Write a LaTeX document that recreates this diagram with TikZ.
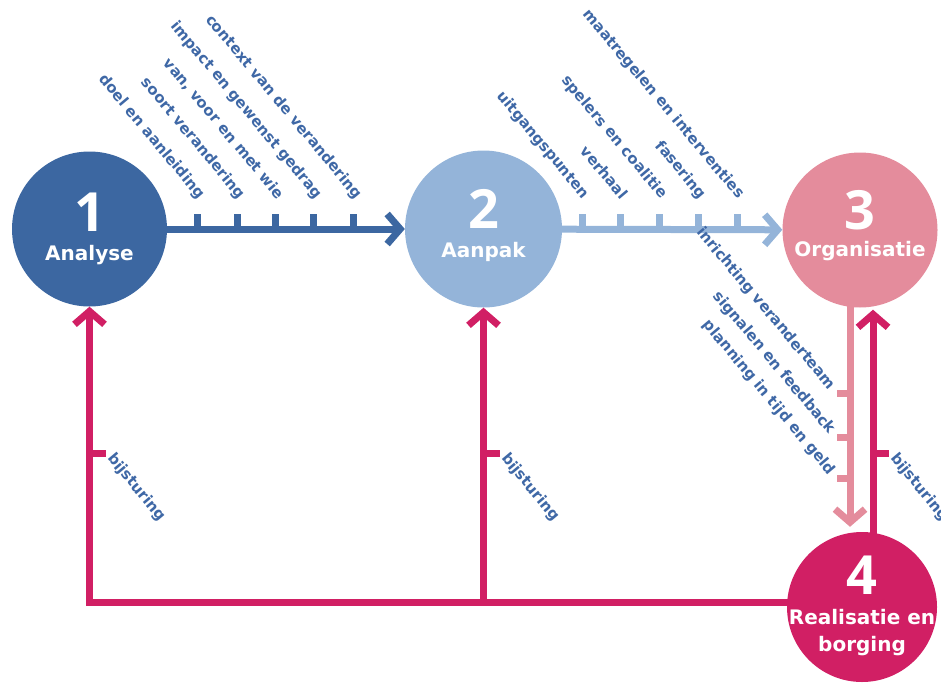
\documentclass[tikz,border=0pt]{standalone}
\usepackage{fontspec}
\setmainfont{Open Sans}
\newfontfamily\lblfont{DejaVu Sans}
\usetikzlibrary{arrows.meta,calc}
\definecolor{cA}{HTML}{3C67A1}
\definecolor{cB}{HTML}{94B4D9}
\definecolor{cC}{HTML}{E48C9C}
\definecolor{cD}{HTML}{D11F64}
\definecolor{cT}{HTML}{3F68A6}
\begin{document}
\begin{tikzpicture}[x=1pt,y=-1pt,
  phase/.style={circle, minimum size=155pt, inner sep=0pt},
  num/.style={text=white, font=\bfseries\fontsize{54}{54}\selectfont, inner sep=0pt},
  word/.style={text=white, font=\lblfont\bfseries\fontsize{20}{27}\selectfont, inner sep=0pt, align=center},
  lbl/.style={text=cT, font=\lblfont\bfseries\fontsize{15}{15}\selectfont, rotate=-50, inner sep=0pt},
  flow/.style={line width=7pt, -{Straight Barb[length=13pt,width=30pt]}},
  tickline/.style={line width=7pt},
]
\useasboundingbox (0,0) rectangle (941,685);

% circles
\node[phase, fill=cA] (n1) at (89.5,229) {};
\node[phase, fill=cB, minimum size=157pt] (n2) at (483.5,229) {};
\node[phase, fill=cC] (n3) at (860,230) {};
\node[phase, fill=cD, minimum size=150pt] (n4) at (862,607) {};

\node[num] (d1) at (89.5,212) {1};
\node[word] (w1) at (89.5,255) {Analyse};
\node[num] (d2) at (483.5,209) {2};
\node[word] (w2) at (483.5,252) {Aanpak};
\node[num] (d3) at (860,210) {3};
\node[word] (w3) at (860,251) {Organisatie};
\node[num] (d4) at (862,575) {4};
\node[word] (w4) at (862,633) {Realisatie en\\borging};

% top flows
\draw[flow, cA] (n1) -- (n2);
\draw[flow, cB] (n2) -- (n3);

% ticks 1->2
\foreach \x [count=\i] in {197,237,275,313,353} {
  \coordinate (ta\i) at (\x,229);
  \draw[tickline, cA] (ta\i) -- ++(0,-15);
}
% ticks 2->3
\foreach \x [count=\i] in {582,620,659,698,737} {
  \coordinate (tb\i) at (\x,229);
  \draw[tickline, cB] (tb\i) -- ++(0,-15);
}

% labels 1->2
\node[lbl, anchor=east] (la1) at (202,197) {doel en aanleiding};
\node[lbl, anchor=east] (la2) at (242,197) {soort verandering};
\node[lbl, anchor=east] (la3) at (281,197) {van, voor en met wie};
\node[lbl, anchor=east] (la4) at (319,197) {impact en gewenst gedrag};
\node[lbl, anchor=east] (la5) at (359,197) {context van de verandering};

% labels 2->3
\node[lbl, anchor=east] (lb1) at (586,197) {uitgangspunten};
\node[lbl, anchor=east] (lb2) at (625,197) {verhaal};
\node[lbl, anchor=east] (lb3) at (664,197) {spelers en coalitie};
\node[lbl, anchor=east] (lb4) at (703,197) {fasering};
\node[lbl, anchor=east] (lb5) at (741,197) {maatregelen en interventies};

% down flow 3->4
\coordinate (p3) at ($(n3.south)+(-10,-2)$);
\coordinate (p4) at ($(n4.north)+(-12,-5)$);
\draw[flow, cC] (p3) -- (p4);
\foreach \y [count=\i] in {393,437,478} {
  \coordinate (tc\i) at (850,\y);
  \draw[tickline, cC] (tc\i) -- ++(-13,0);
}
\node[lbl, anchor=east] (lc1) at (832,388) {inrichting veranderteam};
\node[lbl, anchor=east] (lc2) at (832,432) {signalen en feedback};
\node[lbl, anchor=east] (lc3) at (832,473) {planning in tijd en geld};

% feedback 4->3
\coordinate (q4) at ($(n4.north)+(11,8)$);
\coordinate (q3) at ($(n3.south)+(13,2)$);
\draw[flow, cD] (q4) -- (q3);
\coordinate (td3) at (873,453);
\draw[tickline, cD] (td3) -- ++(16,0);
\node[lbl, anchor=west] (ld3) at (893,456) {bijsturing};

% feedback to 1 and 2
\coordinate (c1) at (89.5,602);
\coordinate (c2) at (483.5,602);
\draw[line width=7pt, cD, line cap=rect] (n4.west |- c1) -- (c1);
\draw[flow, cD] ($(c1)+(0,3.5)$) -- (n1.south);
\draw[flow, cD] (c2) -- (n2.south);
\coordinate (td1) at (89.5,453);
\draw[tickline, cD] (td1) -- ++(16,0);
\node[lbl, anchor=west] (ld1) at (110,456) {bijsturing};
\coordinate (td2) at (483.5,453);
\draw[tickline, cD] (td2) -- ++(16,0);
\node[lbl, anchor=west] (ld2) at (504,456) {bijsturing};
\end{tikzpicture}
\end{document}
